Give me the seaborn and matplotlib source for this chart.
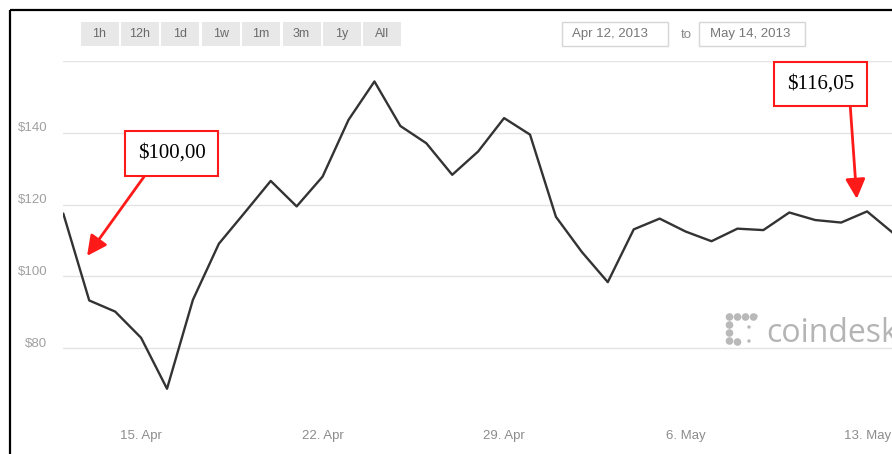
import pandas as pd
import matplotlib
matplotlib.use("Agg")
import matplotlib.pyplot as plt
import matplotlib.transforms as mtransforms
from matplotlib.patches import Rectangle, Circle
import seaborn as sns

# --- data -----------------------------------------------------------------
start_date = "2013-04-12"
end_date = "2013-05-14"
prices = [
    117.5, 93.3, 90.2, 82.9, 68.7, 93.5, 109.1, 117.8, 126.6, 119.5,
    127.8, 143.6, 154.3, 141.9, 137.1, 128.3, 134.8, 144.1, 139.5, 116.6,
    106.8, 98.4, 113.1, 116.1, 112.5, 109.8, 113.3, 112.9, 117.8, 115.7,
    115.0, 118.1, 112.1,
]
grid_values = [80, 100, 120, 140, 160]
ytick_labels = ["$80", "$100", "$120", "$140", ""]
xtick_dates = ["2013-04-15", "2013-04-22", "2013-04-29", "2013-05-06", "2013-05-13"]
xtick_labels = ["15. Apr", "22. Apr", "29. Apr", "6. May", "13. May"]
range_buttons = ["1h", "12h", "1d", "1w", "1m", "3m", "1y", "All"]
from_label = "Apr 12, 2013"
to_label = "May 14, 2013"
callout_texts = ["$100,00", "$116,05"]
callout_dates = ["2013-04-12 22:00", "2013-05-12 14:30"]
callout_values = [105.7, 121.6]

dates = pd.date_range(start_date, end_date, freq="D")
df = pd.DataFrame({"date": dates, "price": prices})

# --- style ----------------------------------------------------------------
sns.set_style("white")
plt.rcParams["font.family"] = ["Liberation Sans", "DejaVu Sans"]

W, H = 892, 454
fig = plt.figure(figsize=(W / 100, H / 100), dpi=100)
fig.patch.set_facecolor("white")

# overlay in pixel units (y grows downward) for the page furniture
over = fig.add_axes([0, 0, 1, 1], zorder=0)
over.set_xlim(0, W)
over.set_ylim(H, 0)
over.axis("off")

# chart area
ax = fig.add_axes([63.3 / W, 34 / H, 829.7 / W, 359 / H], zorder=2)
ax.set_facecolor("none")

sns.lineplot(data=df, x="date", y="price", ax=ax, color="#333333",
             linewidth=1.7, zorder=3)

ax.set_xlim(pd.Timestamp(start_date), pd.Timestamp(end_date))
ax.set_ylim(60, 160)
ax.set_xlabel("")
ax.set_ylabel("")
for sp in ax.spines.values():
    sp.set_visible(False)

ax.set_yticks(grid_values)
ax.set_yticklabels(ytick_labels)
ax.yaxis.grid(True, color="#e4e4e4", linewidth=1.0)
ax.xaxis.grid(False)
ax.tick_params(axis="y", length=0, pad=11.5, labelsize=9.5, labelcolor="#a0a0a0")
shift = mtransforms.ScaledTranslation(0, 6 / 100, fig.dpi_scale_trans)
for lab in ax.get_yticklabels():
    lab.set_transform(lab.get_transform() + shift)

ax.set_xticks(pd.to_datetime(xtick_dates))
ax.set_xticklabels(xtick_labels)
ax.tick_params(axis="x", length=5, width=0.8, color="#c8d2de", pad=2.5,
               labelsize=9.5, labelcolor="#8c8c8c", direction="out")

# callouts
text_centers = [(171.5, H - 153.5), (820.5, H - 84)]
rel_starts = [(0.24, 0.0), (0.93, 0.0)]
for txt, d, v, c, rp in zip(callout_texts, callout_dates, callout_values,
                            text_centers, rel_starts):
    ax.annotate(
        txt, xy=(pd.Timestamp(d), v), xycoords="data",
        xytext=c, textcoords="figure pixels",
        ha="center", va="center", fontsize=15, color="black",
        family=["Liberation Serif", "DejaVu Serif"],
        bbox=dict(boxstyle="square,pad=0.62", fc="white", ec="#ff1a1a", lw=1.5),
        arrowprops=dict(arrowstyle="-|>", color="#ff1a1a", lw=2.0,
                        mutation_scale=30, relpos=rp, shrinkA=0, shrinkB=0),
        annotation_clip=False, zorder=5,
    )

# range selector buttons
btn_left, btn_step, btn_w, btn_top, btn_h = 80.5, 40.4, 38, 22, 23.5
for i, name in enumerate(range_buttons):
    x0 = btn_left + i * btn_step
    over.add_patch(Rectangle((x0, btn_top), btn_w, btn_h, fc="#e8e8e8", ec="none"))
    over.text(x0 + btn_w / 2, btn_top + btn_h / 2 + 0.5, name, ha="center",
              va="center", fontsize=9, color="#6a6a6a")

# date inputs
box_w, box_h, box_top = 106, 24, 22
for x0, label in [(562, from_label), (699, to_label)]:
    over.add_patch(Rectangle((x0, box_top), box_w, box_h, fc="white",
                             ec="#d6d6d6", lw=1.0))
    over.text(x0 + 10.5, box_top + box_h / 2 + 0.5, label, ha="left",
              va="center", fontsize=9.5, color="#777777")
over.text(686, box_top + box_h / 2 + 0.5, "to", ha="center", va="center",
          fontsize=9.5, color="#8a8a8a")

# watermark logo
dot_color = "#b9b9b9"
big_dots = [(729.5, 317), (737.5, 317), (745.5, 317), (753.5, 317),
            (729.5, 325), (729.5, 333), (729.5, 341), (737.5, 342)]
small_dots = [(749, 327), (749, 341), (756, 316)]
for (x, y) in big_dots:
    over.add_patch(Circle((x, y), 3.8, fc=dot_color, ec="none"))
for (x, y) in small_dots:
    over.add_patch(Circle((x, y), 1.7, fc=dot_color, ec="none"))
over.text(766, 342.5, "coindesk", ha="left", va="baseline", fontsize=23,
          color="#b4b4b4", family=["Open Sans", "DejaVu Sans"])

# frame lines along the top and left edges
over.plot([10, W], [10, 10], color="black", lw=1.6, solid_capstyle="butt")
over.plot([10, 10], [10, H], color="black", lw=1.6, solid_capstyle="butt")

fig.savefig("out.png", dpi=100, facecolor="white")
